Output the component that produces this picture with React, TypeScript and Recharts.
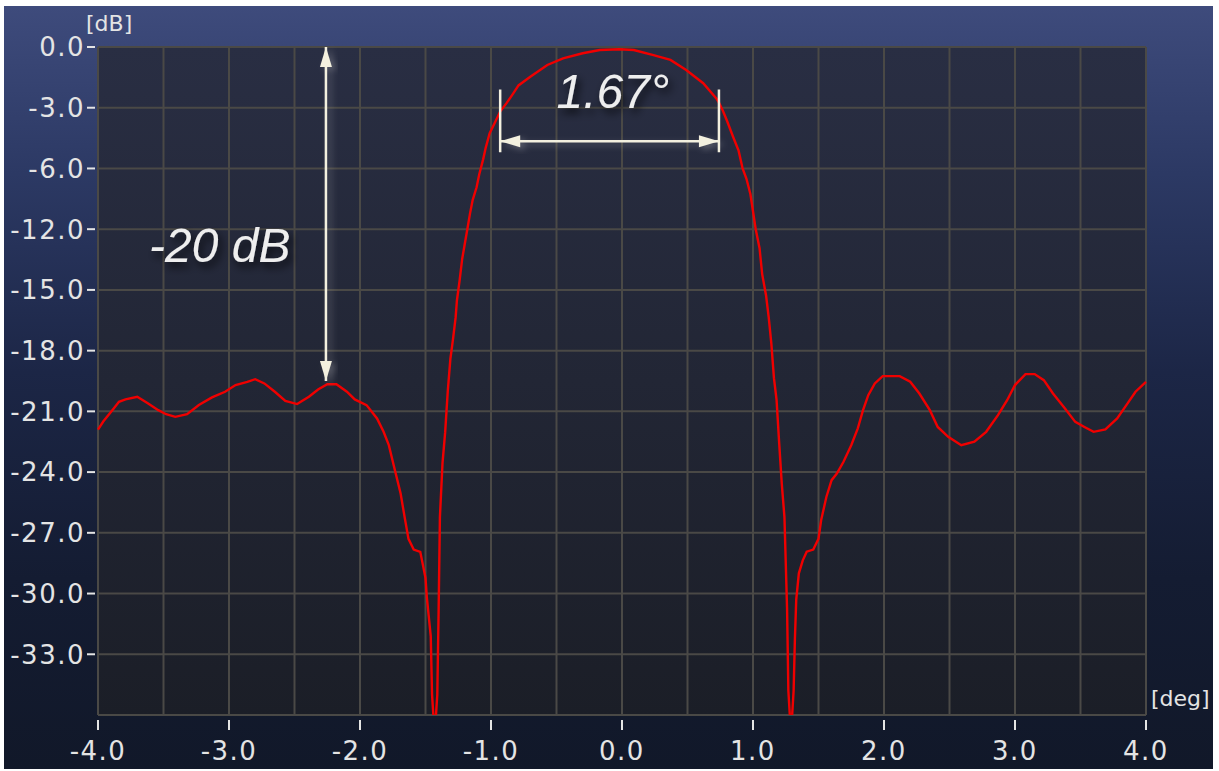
import React from 'react';
import { LineChart, Line, XAxis, YAxis, CartesianGrid, ReferenceLine, ReferenceDot } from 'recharts';

// angle in degrees
const angles = [
    -4.0, -3.96, -3.88, -3.84, -3.79, -3.7, -3.62, -3.54, -3.48, -3.41,
    -3.32, -3.23, -3.13, -3.03, -2.95, -2.86, -2.8, -2.73, -2.65, -2.57,
    -2.48, -2.39, -2.32, -2.25, -2.18, -2.1, -2.04, -1.95, -1.87, -1.82,
    -1.78, -1.74, -1.69, -1.66, -1.63, -1.59, -1.54, -1.52, -1.5, -1.49,
    -1.46, -1.45, -1.43, -1.41, -1.4, -1.39, -1.37, -1.35, -1.33, -1.31,
    -1.29, -1.27, -1.26, -1.24, -1.22, -1.2, -1.18, -1.16, -1.14, -1.11,
    -1.09, -1.06, -1.04, -1.01, -0.97, -0.93, -0.88, -0.83, -0.79, -0.7,
    -0.57, -0.45, -0.3, -0.17, -0.02, 0.09, 0.24, 0.37, 0.49, 0.62,
    0.72, 0.74, 0.77, 0.8, 0.85, 0.89, 0.92, 0.95, 0.98, 1.0,
    1.02, 1.05, 1.07, 1.1, 1.12, 1.14, 1.16, 1.18, 1.2, 1.22,
    1.24, 1.26, 1.27, 1.29, 1.31, 1.32, 1.33, 1.35, 1.38, 1.41,
    1.46, 1.5, 1.52, 1.56, 1.6, 1.64, 1.69, 1.75, 1.8, 1.84,
    1.88, 1.93, 1.99, 2.12, 2.2, 2.27, 2.35, 2.41, 2.49, 2.59,
    2.69, 2.78, 2.87, 2.94, 3.0, 3.08, 3.15, 3.22, 3.29, 3.38,
    3.46, 3.53, 3.6, 3.69, 3.78, 3.85, 3.92, 4.0,
];

// level in dB (as read against the axis labels)
const gains = [
    -21.9, -21.5, -20.86, -20.53, -20.41, -20.28, -20.6, -20.94, -21.14, -21.27,
    -21.14, -20.69, -20.31, -20.03, -19.7, -19.54, -19.41, -19.62, -20.03, -20.48,
    -20.64, -20.28, -19.92, -19.66, -19.66, -20.03, -20.41, -20.69, -21.35, -22.01,
    -22.67, -23.74, -25.06, -26.2, -27.3, -27.83, -27.94, -28.58, -29.23, -30.18,
    -32.1, -35.0, -37.0, -35.0, -30.93, -26.22, -23.54, -22.04, -20.0, -18.4,
    -17.43, -16.36, -15.51, -14.55, -13.47, -12.72, -11.95, -10.44, -9.12, -7.86,
    -6.6, -5.55, -4.97, -4.26, -3.73, -3.19, -2.76, -2.29, -1.9, -1.47,
    -0.89, -0.56, -0.31, -0.15, -0.11, -0.15, -0.4, -0.64, -1.14, -1.79,
    -2.54, -2.75, -3.15, -3.62, -4.47, -5.12, -5.98, -7.02, -8.52, -10.23,
    -11.95, -12.94, -14.22, -15.29, -16.36, -17.65, -19.36, -20.44, -22.58, -24.61,
    -26.22, -30.71, -34.8, -37.0, -34.8, -32.22, -30.3, -29.0, -28.36, -27.93,
    -27.83, -27.3, -26.38, -25.23, -24.4, -24.07, -23.5, -22.67, -21.84, -20.94,
    -20.2, -19.62, -19.26, -19.26, -19.54, -20.12, -20.94, -21.77, -22.26, -22.67,
    -22.5, -22.01, -21.19, -20.45, -19.7, -19.16, -19.16, -19.46, -20.12, -20.85,
    -21.52, -21.77, -22.01, -21.89, -21.35, -20.69, -20.03, -19.54,
];

// grid every 0.5 deg, labels on whole degrees
const xGrid = [-4, -3.5, -3, -2.5, -2, -1.5, -1, -0.5, 0, 0.5, 1, 1.5, 2, 2.5, 3, 3.5, 4];
const xLabels = [-4, -3, -2, -1, 0, 1, 2, 3, 4];

// the y scale jumps from -6 to -12 in one grid step
const yLabels = [0, -3, -6, -12, -15, -18, -21, -24, -27, -30, -33];
const yBottom = -36;

// annotations
const sidelobeArrow = { angle: -2.26, top: 0, bottom: -19.5 };
const beamwidth = { left: -0.93, right: 0.74, level: -4.65, barTop: -2.1, barBottom: -5.2 };
const notes = [
    { text: '-20 dB', angle: -3.07, level: -13.6 },
    { text: '1.67°', angle: -0.07, level: -3.0 },
];

const toAxis = (db: number) => {
    if (db >= -6) return db;
    if (db >= -12) return -6 + (db + 6) / 2;
    return db + 3;
};

const rows = angles.map((a, i) => ({ angle: a, level: toAxis(gains[i]) }));
const yTicks = [...yLabels, yBottom].map(toAxis);
const yLabelAt = new Map(yLabels.map((v) => [toAxis(v), v.toFixed(1)]));

const tickFont = { fontFamily: '"DejaVu Sans", sans-serif', fontSize: 26, letterSpacing: 1.5, fill: '#e4e4e4' };
const ink = '#f3f0df';

const YTick = ({ x, y, payload }: any) => {
    const label = yLabelAt.get(payload.value);
    if (label === undefined) return <g />;
    return (
        <g>
            <line x1={x} x2={x + 8} y1={y} y2={y} stroke="#e4e4e4" strokeWidth={2} />
            <text x={x - 2} y={y} dy="0.36em" textAnchor="end" {...tickFont}>{label}</text>
        </g>
    );
};

const XTick = ({ x, y, payload }: any) => {
    if (!xLabels.includes(payload.value)) return <g />;
    return (
        <g>
            <line x1={x} x2={x} y1={y - 10} y2={y} stroke="#e4e4e4" strokeWidth={2} />
            <text x={x} y={y + 30} textAnchor="middle" {...tickFont}>{payload.value.toFixed(1)}</text>
        </g>
    );
};

// line with an arrow head on both ends
const DoubleArrow = ({ x1, y1, x2, y2 }: any) => {
    const len = Math.hypot(x2 - x1, y2 - y1) || 1;
    const ux = (x2 - x1) / len, uy = (y2 - y1) / len;
    const px = -uy, py = ux;
    const head = (tx: number, ty: number, d: number) => {
        const bx = tx - ux * d * 20, by = ty - uy * d * 20;
        return `${tx},${ty} ${bx + px * 6},${by + py * 6} ${bx - px * 6},${by - py * 6}`;
    };
    return (
        <g filter="url(#glow)">
            <line x1={x1} y1={y1} x2={x2} y2={y2} stroke={ink} strokeWidth={2.5} />
            <polygon points={head(x1, y1, -1)} fill={ink} />
            <polygon points={head(x2, y2, 1)} fill={ink} />
        </g>
    );
};

const EndBar = ({ x1, y1, x2, y2 }: any) => (
    <line x1={x1} y1={y1} x2={x2} y2={y2} stroke={ink} strokeWidth={2.5} />
);

const labelFont = { position: 'absolute' as const, fontFamily: '"DejaVu Sans", sans-serif', fontSize: 22, color: '#e4e4e4' };

const App: React.FC = () => {
    return (
        <div style={{ position: 'absolute', left: 0, top: 0, width: 1219, height: 771, background: '#fff' }}>
            <div
                style={{
                    position: 'absolute', left: 4, top: 6, width: 1209, height: 763,
                    background: 'linear-gradient(to bottom, #3e4b7c 0%, #2c3964 22%, #1c2646 48%, #141c32 75%, #111829 100%)',
                }}
            />
            <div style={{ position: 'absolute', left: 0, top: 0 }}>
                <LineChart width={1219} height={771} data={rows} margin={{ top: 47, right: 73, bottom: 0, left: 8 }}>
                    <defs>
                        <linearGradient id="plotBg" x1="0" y1="0" x2="0" y2="1">
                            <stop offset="0%" stopColor="#292e43" />
                            <stop offset="100%" stopColor="#1b1e27" />
                        </linearGradient>
                        <filter id="glow" x="-50%" y="-50%" width="200%" height="200%">
                            <feDropShadow dx="4" dy="3" stdDeviation="3" floodColor="#9a9aa0" floodOpacity="0.45" />
                        </filter>
                        <filter id="shade" x="-30%" y="-50%" width="160%" height="200%">
                            <feDropShadow dx="3" dy="5" stdDeviation="4" floodColor="#000" floodOpacity="0.75" />
                        </filter>
                    </defs>
                    <CartesianGrid stroke="#4a4946" strokeWidth={2} fill="url(#plotBg)" fillOpacity={1} />
                    <XAxis
                        type="number"
                        dataKey="angle"
                        domain={[-4, 4]}
                        ticks={xGrid}
                        interval={0}
                        height={56}
                        axisLine={false}
                        tickLine={false}
                        tickSize={15}
                        tickMargin={0}
                        tick={<XTick />}
                    />
                    <YAxis
                        type="number"
                        domain={[toAxis(yBottom), 0]}
                        ticks={yTicks}
                        interval={0}
                        width={90}
                        allowDataOverflow
                        axisLine={false}
                        tickLine={false}
                        tickSize={11}
                        tickMargin={0}
                        tick={<YTick />}
                    />
                    <Line
                        type="linear"
                        dataKey="level"
                        stroke="#f00000"
                        strokeWidth={2.4}
                        dot={false}
                        activeDot={false}
                        isAnimationActive={false}
                    />
                    <ReferenceLine
                        segment={[
                            { x: sidelobeArrow.angle, y: toAxis(sidelobeArrow.top) },
                            { x: sidelobeArrow.angle, y: toAxis(sidelobeArrow.bottom) },
                        ]}
                        shape={DoubleArrow}
                    />
                    <ReferenceLine
                        segment={[
                            { x: beamwidth.left, y: toAxis(beamwidth.level) },
                            { x: beamwidth.right, y: toAxis(beamwidth.level) },
                        ]}
                        shape={DoubleArrow}
                    />
                    <ReferenceLine
                        segment={[
                            { x: beamwidth.left, y: toAxis(beamwidth.barTop) },
                            { x: beamwidth.left, y: toAxis(beamwidth.barBottom) },
                        ]}
                        shape={EndBar}
                    />
                    <ReferenceLine
                        segment={[
                            { x: beamwidth.right, y: toAxis(beamwidth.barTop) },
                            { x: beamwidth.right, y: toAxis(beamwidth.barBottom) },
                        ]}
                        shape={EndBar}
                    />
                    {notes.map((n) => (
                        <ReferenceDot
                            key={n.text}
                            x={n.angle}
                            y={toAxis(n.level)}
                            r={0}
                            shape={({ cx, cy }: any) => (
                                <text
                                    x={cx}
                                    y={cy}
                                    textAnchor="middle"
                                    fontFamily='"Liberation Sans", Arial, sans-serif'
                                    fontStyle="italic"
                                    fontSize={48}
                                    fill="#eeeeee"
                                    filter="url(#shade)"
                                >
                                    {n.text}
                                </text>
                            )}
                        />
                    ))}
                </LineChart>
            </div>
            <div style={{ ...labelFont, left: 86, top: 11 }}>[dB]</div>
            <div style={{ ...labelFont, left: 1151, top: 686 }}>[deg]</div>
        </div>
    );
};

export default App;
